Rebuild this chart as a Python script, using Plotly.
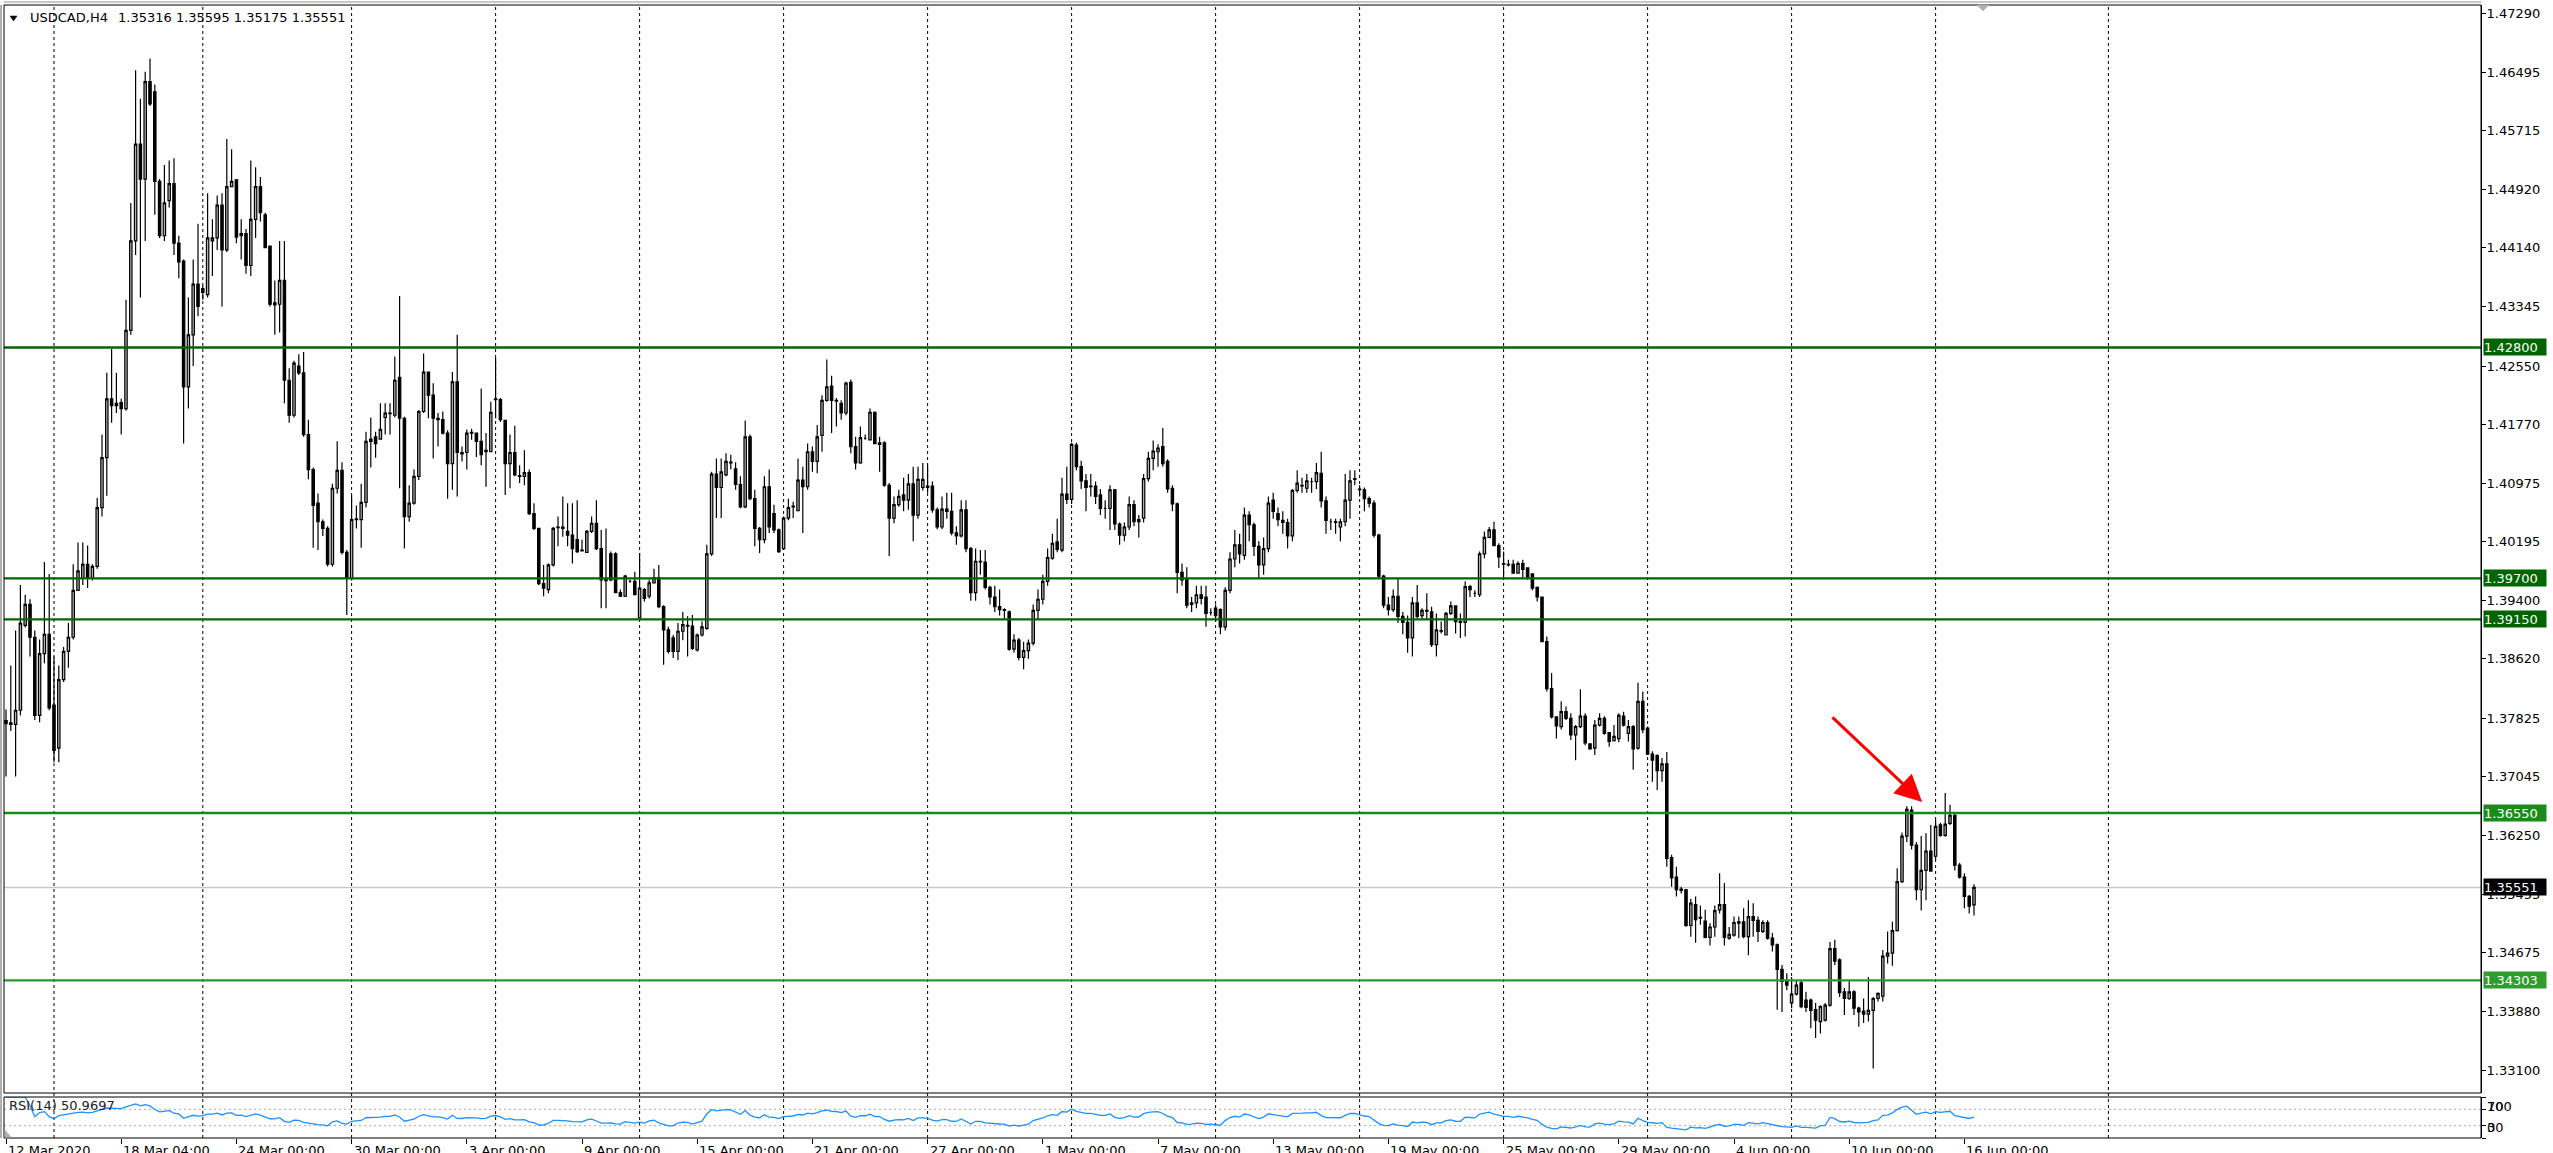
import plotly.graph_objects as go

# ---------------- DATA (USDCAD H4) ----------------
opens = [
1.3779,1.3774,1.3774,1.3793,1.3907,1.3935,1.3891,1.3786,1.3869,1.3895,
1.3800,1.3742,1.3834,1.3872,1.3891,1.3954,1.3970,1.3989,1.3970,1.3986,
1.4065,1.4132,1.4211,1.4202,1.4206,1.4198,1.4303,1.4423,1.4553,1.4506,
1.4637,1.4623,1.4503,1.4430,1.4477,1.4500,1.4420,1.4396,1.4227,1.4297,
1.4365,1.4359,1.4351,1.4423,1.4427,1.4471,1.4411,1.4496,1.4505,1.4430,
1.4433,1.4390,1.4452,1.4496,1.4458,1.4416,1.4340,1.4338,1.4370,1.4236,
1.4189,1.4255,1.4246,1.4163,1.4116,1.4071,1.4046,1.4037,1.3989,1.4091,
1.4115,1.4005,1.3970,1.4049,1.4049,1.4072,1.4154,1.4160,1.4157,1.4186,
1.4192,1.4189,1.4240,1.4185,1.4053,1.4071,1.4107,1.4194,1.4247,1.4216,
1.4185,1.4183,1.4165,1.4124,1.4234,1.4139,1.4139,1.4165,1.4165,1.4154,
1.4140,1.4140,1.4210,1.4210,1.4182,1.4124,1.4139,1.4108,1.4107,1.4112,
1.4057,1.4037,1.3963,1.3955,1.3988,1.4038,1.4039,1.4033,1.4028,1.4022,
1.4008,1.4005,1.4033,1.4044,1.4010,1.3968,1.4003,1.4003,1.3951,1.3946,
1.3966,1.3966,1.3917,1.3955,1.3946,1.3964,1.3971,1.3932,1.3901,1.3890,
1.3872,1.3899,1.3907,1.3906,1.3874,1.3894,1.3903,1.4003,1.4110,1.4092,
1.4109,1.4126,1.4117,1.4096,1.4066,1.4160,1.4077,1.4037,1.4022,1.4093,
1.4057,1.4035,1.4010,1.4051,1.4066,1.4061,1.4102,1.4093,1.4140,1.4127,
1.4162,1.4209,1.4228,1.4209,1.4205,1.4192,1.4233,1.4147,1.4125,1.4158,
1.4156,1.4193,1.4152,1.4152,1.4095,1.4051,1.4069,1.4082,1.4075,1.4097,
1.4055,1.4092,1.4094,1.4094,1.4062,1.4039,1.4063,1.4060,1.4031,1.4027,
1.4062,1.4010,1.3951,1.3992,1.3992,1.3958,1.3945,1.3932,1.3928,1.3925,
1.3875,1.3887,1.3864,1.3873,1.3883,1.3927,1.3942,1.3966,1.3997,1.4019,
1.4008,1.4083,1.4076,1.4149,1.4120,1.4101,1.4094,1.4094,1.4082,1.4064,
1.4064,1.4089,1.4043,1.4028,1.4039,1.4069,1.4046,1.4051,1.4104,1.4131,
1.4140,1.4147,1.4127,1.4091,1.4070,1.3978,1.3968,1.3935,1.3937,1.3948,
1.3945,1.3924,1.3930,1.3928,1.3905,1.3954,1.3996,1.4015,1.4001,1.4055,
1.4042,1.4013,1.3988,1.4010,1.4075,1.4057,1.4048,1.4045,1.4027,1.4088,
1.4094,1.4091,1.4100,1.4100,1.4111,1.4074,1.4046,1.4046,1.4039,1.4046,
1.4075,1.4103,1.4090,1.4089,1.4077,1.4071,1.4028,1.3973,1.3934,1.3928,
1.3946,1.3919,1.3911,1.3890,1.3937,1.3920,1.3927,1.3925,1.3881,1.3900,
1.3894,1.3923,1.3933,1.3912,1.3911,1.3959,1.3950,1.3948,1.4003,1.4025,
1.4035,1.4014,1.3990,1.3989,1.3989,1.3977,1.3990,1.3984,1.3976,1.3958,
1.3945,1.3885,1.3822,1.3784,1.3771,1.3791,1.3782,1.3760,1.3771,1.3785,
1.3748,1.3742,1.3773,1.3782,1.3763,1.3752,1.3755,1.3785,1.3762,1.3771,
1.3742,1.3805,1.3769,1.3734,1.3732,1.3712,1.3721,1.3595,1.3569,1.3553,
1.3552,1.3504,1.3532,1.3515,1.3510,1.3488,1.3502,1.3525,1.3532,1.3487,
1.3491,1.3509,1.3509,1.3489,1.3516,1.3511,1.3496,1.3508,1.3487,1.3478,
1.3445,1.3429,1.3400,1.3412,1.3427,1.3404,1.3404,1.3391,1.3375,1.3377,
1.3397,1.3473,1.3458,1.3415,1.3406,1.3415,1.3393,1.3389,1.3385,1.3390,
1.3406,1.3409,1.3463,1.3467,1.3497,1.3563,1.3624,1.3659,1.3612,1.3552,
1.3578,1.3604,1.3597,1.3639,1.3625,1.3641,1.3652,1.3585,1.3569,1.3543,
1.35316]

highs = [
1.3794,1.3853,1.3900,1.3961,1.3948,1.3942,1.3900,1.3888,1.3992,1.3976,
1.3865,1.3853,1.3878,1.3910,1.3989,1.4018,1.4018,1.4014,1.3989,1.4078,
1.4163,1.4246,1.4278,1.4246,1.4211,1.4344,1.4474,1.4652,1.4614,1.4650,
1.4668,1.4633,1.4506,1.4525,1.4531,1.4534,1.4430,1.4398,1.4347,1.4398,
1.4446,1.4363,1.4487,1.4452,1.4484,1.4487,1.4560,1.4546,1.4506,1.4452,
1.4439,1.4531,1.4522,1.4509,1.4461,1.4417,1.4370,1.4423,1.4423,1.4252,
1.4262,1.4271,1.4274,1.4183,1.4119,1.4084,1.4049,1.4040,1.4097,1.4154,
1.4126,1.4008,1.4081,1.4068,1.4097,1.4167,1.4186,1.4167,1.4205,1.4205,
1.4205,1.4268,1.4349,1.4187,1.4095,1.4116,1.4196,1.4272,1.4247,1.4232,
1.4192,1.4194,1.4169,1.4247,1.4297,1.4147,1.4170,1.4171,1.4166,1.4225,
1.4165,1.4207,1.4266,1.4212,1.4183,1.4163,1.4175,1.4122,1.4142,1.4116,
1.4071,1.4037,1.3988,1.3990,1.4039,1.4053,1.4080,1.4071,1.4071,1.4075,
1.4022,1.4035,1.4053,1.4075,1.4035,1.4037,1.4006,1.4005,1.3955,1.3975,
1.3968,1.3979,1.4004,1.3957,1.3968,1.3983,1.3988,1.3934,1.3905,1.3894,
1.3910,1.3925,1.3919,1.3921,1.3896,1.3912,1.4015,1.4113,1.4131,1.4131,
1.4138,1.4136,1.4126,1.4107,1.4182,1.4163,1.4089,1.4039,1.4107,1.4116,
1.4069,1.4037,1.4053,1.4077,1.4073,1.4131,1.4120,1.4151,1.4147,1.4176,
1.4216,1.4264,1.4242,1.4212,1.4209,1.4234,1.4237,1.4160,1.4174,1.4163,
1.4198,1.4194,1.4160,1.4154,1.4098,1.4080,1.4089,1.4105,1.4110,1.4120,
1.4120,1.4125,1.4122,1.4100,1.4065,1.4080,1.4085,1.4085,1.4040,1.4075,
1.4075,1.4012,1.4010,1.4008,1.4008,1.3960,1.3960,1.3955,1.3930,1.3927,
1.3895,1.3890,1.3885,1.3888,1.3935,1.3955,1.3975,1.4010,1.4030,1.4050,
1.4105,1.4120,1.4152,1.4152,1.4128,1.4110,1.4110,1.4100,1.4090,1.4075,
1.4095,1.4090,1.4045,1.4045,1.4080,1.4075,1.4055,1.4110,1.4140,1.4155,
1.4150,1.4172,1.4130,1.4095,1.4072,1.3990,1.3985,1.3945,1.3960,1.3960,
1.3960,1.3930,1.3935,1.3930,1.3958,1.4005,1.4035,1.4030,1.4065,1.4060,
1.4045,1.4020,1.4025,1.4080,1.4085,1.4065,1.4060,1.4050,1.4090,1.4115,
1.4105,1.4110,1.4105,1.4125,1.4140,1.4080,1.4050,1.4050,1.4050,1.4110,
1.4115,1.4115,1.4095,1.4092,1.4080,1.4075,1.4030,1.3975,1.3945,1.3955,
1.3970,1.3925,1.3920,1.3945,1.3961,1.3930,1.3950,1.3932,1.3923,1.3912,
1.3925,1.3939,1.3934,1.3923,1.3966,1.3961,1.3954,1.4006,1.4033,1.4039,
1.4046,1.4017,1.4006,1.3995,1.3995,1.3993,1.3995,1.3984,1.3977,1.3959,
1.3945,1.3892,1.3843,1.3784,1.3805,1.3798,1.3789,1.3773,1.3821,1.3789,
1.3748,1.3780,1.3789,1.3785,1.3763,1.3773,1.3789,1.3791,1.3780,1.3773,
1.3830,1.3818,1.3771,1.3738,1.3734,1.3729,1.3737,1.3599,1.3583,1.3556,
1.3553,1.3540,1.3543,1.3531,1.3525,1.3507,1.3531,1.3574,1.3561,1.3502,
1.3516,1.3516,1.3527,1.3538,1.3534,1.3516,1.3511,1.3511,1.3494,1.3480,
1.3451,1.3440,1.3435,1.3431,1.3431,1.3415,1.3406,1.3400,1.3397,1.3400,
1.3482,1.3485,1.3460,1.3420,1.3429,1.3417,1.3395,1.3406,1.3435,1.3408,
1.3414,1.3471,1.3496,1.3509,1.3581,1.3629,1.3664,1.3664,1.3616,1.3624,
1.3628,1.3639,1.3646,1.3642,1.3682,1.3666,1.3654,1.3588,1.3574,1.3545,
1.35595]

lows = [
1.3704,1.3765,1.3704,1.3786,1.3904,1.3865,1.3780,1.3777,1.3856,1.3793,
1.3723,1.3723,1.3831,1.3850,1.3888,1.3954,1.3961,1.3957,1.3967,1.3983,
1.4053,1.4081,1.4179,1.4192,1.4163,1.4195,1.4297,1.4404,1.4347,1.4423,
1.4604,1.4458,1.4427,1.4423,1.4468,1.4404,1.4373,1.4151,1.4198,1.4255,
1.4322,1.4344,1.4347,1.4376,1.4411,1.4335,1.4408,1.4496,1.4420,1.4398,
1.4379,1.4376,1.4427,1.4449,1.4414,1.4335,1.4297,1.4300,1.4205,1.4179,
1.4186,1.4243,1.4160,1.4103,1.4011,1.4008,1.4027,1.3986,1.3986,1.4084,
1.4002,1.3921,1.3967,1.4037,1.4011,1.4065,1.4119,1.4132,1.4157,1.4163,
1.4163,1.4186,1.4091,1.4010,1.4046,1.4069,1.4102,1.4192,1.4185,1.4131,
1.4147,1.4163,1.4077,1.4089,1.4080,1.4127,1.4116,1.4156,1.4133,1.4122,
1.4093,1.4140,1.4185,1.4180,1.4082,1.4091,1.4107,1.4098,1.4095,1.4055,
1.4035,1.3961,1.3946,1.3950,1.3986,1.4013,1.4026,1.4013,1.3990,1.4004,
1.4006,1.4004,1.4031,1.4008,1.3930,1.3930,1.3966,1.3950,1.3945,1.3945,
1.3964,1.3948,1.3917,1.3939,1.3943,1.3963,1.3930,1.3854,1.3869,1.3863,
1.3860,1.3887,1.3865,1.3874,1.3872,1.3892,1.3901,1.4000,1.4051,1.4051,
1.4107,1.4116,1.4089,1.4064,1.4064,1.4075,1.4013,1.4004,1.4017,1.4031,
1.4031,1.4004,1.4008,1.4048,1.4051,1.4060,1.4031,1.4089,1.4113,1.4111,
1.4140,1.4207,1.4165,1.4174,1.4183,1.4189,1.4138,1.4116,1.4124,1.4156,
1.4155,1.4150,1.4113,1.4093,1.4000,1.4044,1.4066,1.4060,1.4062,1.4020,
1.4050,1.4088,1.4085,1.4058,1.4036,1.4036,1.4050,1.4028,1.4015,1.4025,
1.4005,1.3940,1.3940,1.3975,1.3955,1.3935,1.3925,1.3920,1.3915,1.3873,
1.3870,1.3860,1.3848,1.3862,1.3880,1.3915,1.3935,1.3960,1.3995,1.4005,
1.4005,1.4070,1.4070,1.4115,1.4090,1.4060,1.4080,1.4070,1.4055,1.4050,
1.4035,1.4035,1.4015,1.4020,1.4035,1.4040,1.4025,1.4045,1.4100,1.4115,
1.4120,1.4120,1.4085,1.4060,1.3950,1.3960,1.3930,1.3925,1.3930,1.3935,
1.3905,1.3920,1.3912,1.3895,1.3900,1.3950,1.3985,1.3990,1.3995,1.4020,
1.4000,1.3970,1.3975,1.4005,1.4050,1.4040,1.4030,1.4010,1.4020,1.4085,
1.4085,1.4085,1.4085,1.4090,1.4065,1.4030,1.4035,1.4030,1.4020,1.4040,
1.4050,1.4095,1.4080,1.4060,1.4065,1.4025,1.3970,1.3930,1.3920,1.3925,
1.3910,1.3895,1.3870,1.3865,1.3916,1.3916,1.3914,1.3878,1.3865,1.3896,
1.3894,1.3921,1.3896,1.3890,1.3892,1.3945,1.3945,1.3945,1.3997,1.4024,
1.4013,1.3984,1.3972,1.3986,1.3977,1.3977,1.3970,1.3968,1.3954,1.3939,
1.3885,1.3818,1.3782,1.3755,1.3767,1.3780,1.3753,1.3726,1.3769,1.3746,
1.3740,1.3733,1.3771,1.3760,1.3744,1.3751,1.3750,1.3771,1.3751,1.3713,
1.3740,1.3762,1.3733,1.3697,1.3686,1.3697,1.3583,1.3556,1.3543,1.3547,
1.3502,1.3489,1.3481,1.3505,1.3487,1.3477,1.3489,1.3520,1.3477,1.3485,
1.3489,1.3487,1.3487,1.3464,1.3489,1.3482,1.3494,1.3485,1.3469,1.3391,
1.3388,1.3417,1.3393,1.3410,1.3393,1.3388,1.3366,1.3353,1.3359,1.3375,
1.3395,1.3451,1.3408,1.3384,1.3404,1.3384,1.3368,1.3373,1.3375,1.3312,
1.3402,1.3402,1.3453,1.3450,1.3496,1.3561,1.3616,1.3606,1.3538,1.3524,
1.3538,1.3576,1.3592,1.3623,1.3623,1.3639,1.3578,1.3567,1.3527,1.3520,
1.35175]

closes = [
1.3775,1.3776,1.3793,1.3910,1.3935,1.3891,1.3786,1.3869,1.3895,1.3796,
1.3739,1.3834,1.3872,1.3891,1.3954,1.3980,1.3989,1.3970,1.3986,1.4065,
1.4132,1.4211,1.4202,1.4205,1.4198,1.4303,1.4423,1.4553,1.4506,1.4637,
1.4607,1.4503,1.4430,1.4474,1.4500,1.4420,1.4395,1.4227,1.4297,1.4365,
1.4335,1.4354,1.4427,1.4427,1.4471,1.4411,1.4496,1.4503,1.4428,1.4433,
1.4390,1.4452,1.4496,1.4461,1.4414,1.4338,1.4337,1.4370,1.4236,1.4189,
1.4259,1.4246,1.4163,1.4116,1.4068,1.4046,1.4037,1.3989,1.4091,1.4115,
1.4005,1.3970,1.4049,1.4050,1.4072,1.4154,1.4157,1.4151,1.4170,1.4192,
1.4191,1.4236,1.4185,1.4053,1.4071,1.4107,1.4194,1.4247,1.4216,1.4185,
1.4183,1.4165,1.4124,1.4234,1.4139,1.4137,1.4165,1.4166,1.4154,1.4136,
1.4142,1.4193,1.4211,1.4183,1.4124,1.4139,1.4109,1.4107,1.4112,1.4057,
1.4037,1.3963,1.3957,1.3988,1.4037,1.4039,1.4037,1.4028,1.4010,1.4006,
1.4007,1.4033,1.4044,1.4010,1.3968,1.3967,1.3968,1.3951,1.3946,1.3973,
1.3966,1.3948,1.3957,1.3943,1.3964,1.3971,1.3932,1.3901,1.3872,1.3872,
1.3899,1.3908,1.3906,1.3876,1.3894,1.3905,1.4003,1.4110,1.4092,1.4113,
1.4127,1.4125,1.4096,1.4066,1.4160,1.4077,1.4037,1.4022,1.4093,1.4039,
1.4035,1.4006,1.4051,1.4065,1.4067,1.4102,1.4093,1.4140,1.4127,1.4160,
1.4209,1.4227,1.4209,1.4208,1.4192,1.4232,1.4147,1.4125,1.4159,1.4158,
1.4193,1.4151,1.4150,1.4095,1.4051,1.4069,1.4080,1.4075,1.4097,1.4055,
1.4103,1.4103,1.4092,1.4062,1.4039,1.4063,1.4060,1.4031,1.4027,1.4062,
1.4010,1.3951,1.3993,1.3993,1.3958,1.3945,1.3932,1.3928,1.3927,1.3875,
1.3887,1.3864,1.3873,1.3883,1.3927,1.3942,1.3966,1.3998,1.4017,1.4009,
1.4083,1.4076,1.4150,1.4120,1.4101,1.4092,1.4093,1.4080,1.4064,1.4064,
1.4089,1.4043,1.4028,1.4039,1.4069,1.4046,1.4049,1.4104,1.4131,1.4141,
1.4145,1.4124,1.4090,1.4070,1.3978,1.3968,1.3934,1.3937,1.3948,1.3943,
1.3923,1.3924,1.3920,1.3905,1.3954,1.3996,1.4015,1.4003,1.4055,1.4042,
1.4013,1.3988,1.4010,1.4071,1.4060,1.4049,1.4045,1.4027,1.4088,1.4098,
1.4095,1.4101,1.4100,1.4112,1.4074,1.4048,1.4046,1.4045,1.4046,1.4075,
1.4101,1.4104,1.4089,1.4077,1.4071,1.4028,1.3973,1.3934,1.3928,1.3946,
1.3919,1.3911,1.3890,1.3937,1.3919,1.3927,1.3926,1.3881,1.3901,1.3899,
1.3923,1.3933,1.3912,1.3911,1.3959,1.3955,1.3950,1.4003,1.4025,1.4035,
1.4014,1.3999,1.3989,1.3988,1.3977,1.3990,1.3982,1.3972,1.3957,1.3945,
1.3885,1.3822,1.3784,1.3772,1.3791,1.3782,1.3760,1.3771,1.3785,1.3749,
1.3741,1.3773,1.3782,1.3762,1.3751,1.3758,1.3786,1.3773,1.3771,1.3741,
1.3805,1.3767,1.3734,1.3726,1.3712,1.3721,1.3594,1.3568,1.3552,1.3551,
1.3504,1.3534,1.3512,1.3514,1.3488,1.3502,1.3524,1.3532,1.3488,1.3492,
1.3508,1.3507,1.3489,1.3516,1.3511,1.3496,1.3508,1.3487,1.3478,1.3445,
1.3429,1.3424,1.3412,1.3424,1.3395,1.3394,1.3390,1.3377,1.3395,1.3397,
1.3473,1.3456,1.3414,1.3406,1.3415,1.3393,1.3388,1.3385,1.3390,1.3406,
1.3413,1.3463,1.3467,1.3497,1.3563,1.3624,1.3660,1.3612,1.3552,1.3578,
1.3604,1.3577,1.3637,1.3625,1.3640,1.3652,1.3585,1.3569,1.3543,1.3530,
1.35551]

price_ticks = [1.47290, 1.46495, 1.45715, 1.44920, 1.44140, 1.43345, 1.42550,
               1.41770, 1.40975, 1.40195, 1.39400, 1.38620, 1.37825, 1.37045,
               1.36250, 1.35455, 1.34675, 1.33880, 1.33100]
level_prices = [1.42800, 1.39700, 1.39150, 1.36550, 1.34303]
current_price = 1.35551
date_labels = ["12 Mar 2020", "18 Mar 04:00", "24 Mar 00:00", "30 Mar 00:00",
               "3 Apr 00:00", "9 Apr 00:00", "15 Apr 00:00", "21 Apr 00:00",
               "27 Apr 00:00", "1 May 00:00", "7 May 00:00", "13 May 00:00",
               "19 May 00:00", "25 May 00:00", "29 May 00:00", "4 Jun 00:00",
               "10 Jun 00:00", "16 Jun 00:00"]
date_label_bars = [0, 24, 48, 72, 96, 120, 144, 168, 192, 216, 240, 264, 288,
                   312, 336, 360, 384, 408]
grid_bars = [10, 41, 72, 102, 132, 162, 192, 222, 252, 282, 312, 342, 372, 402, 438]
rsi_levels = [70, 30]
arrow_tail = (380.2, 1.37853)
arrow_tip = (399.2, 1.36698)

# ---------------- derived ----------------
bars = list(range(len(closes)))
highs = [max(h, o, c) for h, o, c in zip(highs, opens, closes)]
lows = [min(l, o, c) for l, o, c in zip(lows, opens, closes)]


def rsi(vals, n=14):
    out = [None] * len(vals)
    gains, losses = [], []
    ag = al = 0.0
    for i in range(1, len(vals)):
        d = vals[i] - vals[i - 1]
        g, l = max(d, 0.0), max(-d, 0.0)
        if i <= n:
            gains.append(g)
            losses.append(l)
            ag = sum(gains) / len(gains)
            al = sum(losses) / len(losses)
        else:
            ag = (ag * (n - 1) + g) / n
            al = (al * (n - 1) + l) / n
        out[i] = 100.0 if al == 0 else 100 - 100 / (1 + ag / al)
    out[0] = out[1]
    return out


rsi_vals = rsi(closes)

# ---------------- geometry (pixels) ----------------
W, H = 2553, 1153
PX_L, PX_R, PX_T, PX_B = 4, 2481, 5, 1138
MAIN_BOTTOM_PX, RSI_TOP_PX = 1093, 1097
PX_PER_BAR = 4.8
FIRST_BAR_PX = 6
PX_PER_PRICE = 7449.0


def px_x(px):
    return (px - PX_L) / (PX_R - PX_L)


def px_y(py):
    return (PX_B - py) / (PX_B - PX_T)


x_range = [(PX_L - FIRST_BAR_PX) / PX_PER_BAR, (PX_R - FIRST_BAR_PX) / PX_PER_BAR]
y_top = 1.47290 + (13 - PX_T) / PX_PER_PRICE
y_bot = y_top - (MAIN_BOTTOM_PX - PX_T) / PX_PER_PRICE

FONT = "DejaVu Sans"

fig = go.Figure()
fig.add_trace(go.Candlestick(
    x=bars, open=opens, high=highs, low=lows, close=closes,
    increasing=dict(line=dict(color="black", width=1.2), fillcolor="#b4b4b4"),
    decreasing=dict(line=dict(color="black", width=1.2), fillcolor="black"),
    whiskerwidth=0, xaxis="x", yaxis="y", showlegend=False, hoverinfo="skip"))

fig.add_trace(go.Scatter(
    x=bars, y=rsi_vals, mode="lines", line=dict(color="#1E90FF", width=1.3),
    xaxis="x2", yaxis="y2", showlegend=False, hoverinfo="skip"))

shapes = []
for g in grid_bars:
    shapes.append(dict(type="line", xref="x", yref="paper", x0=g, x1=g, y0=0, y1=1,
                       line=dict(color="black", width=1, dash="3px,3px"), layer="below"))
shapes.append(dict(type="line", xref="paper", yref="y", x0=0, x1=1,
                   y0=current_price, y1=current_price,
                   line=dict(color="#c8c8c8", width=1.5), layer="below"))
level_line_colors = ["#006400", "#006400", "#006400", "#168a16", "#2a982a"]
for lv, col in zip(level_prices, level_line_colors):
    shapes.append(dict(type="line", xref="paper", yref="y", x0=0, x1=1, y0=lv, y1=lv,
                       line=dict(color=col, width=2.4), layer="above"))
for lv in rsi_levels:
    shapes.append(dict(type="line", xref="paper", yref="y2", x0=0, x1=1, y0=lv, y1=lv,
                       line=dict(color="#a8a8a8", width=1, dash="2px,3px"), layer="below"))
# pane frames
shapes.append(dict(type="rect", xref="paper", yref="paper", x0=0, x1=1,
                   y0=px_y(MAIN_BOTTOM_PX), y1=1, line=dict(color="black", width=1),
                   fillcolor="rgba(0,0,0,0)", layer="above"))
shapes.append(dict(type="rect", xref="paper", yref="paper", x0=0, x1=1,
                   y0=0, y1=px_y(RSI_TOP_PX), line=dict(color="black", width=1),
                   fillcolor="rgba(0,0,0,0)", layer="above"))
shapes.append(dict(type="line", xref="paper", yref="paper", x0=px_x(1), x1=px_x(1),
                   y0=0, y1=1, line=dict(color="#606060", width=1)))
shapes.append(dict(type="line", xref="paper", yref="paper", x0=0, x1=1,
                   y0=px_y(2), y1=px_y(2), line=dict(color="#909090", width=1)))
# header triangle
tri = "M {} {} L {} {} L {} {} Z".format(px_x(10), px_y(16), px_x(17), px_y(16),
                                          px_x(13.5), px_y(21))
shapes.append(dict(type="path", xref="paper", yref="paper", path=tri,
                   fillcolor="black", line=dict(color="black", width=0.5)))
# chart-shift marker
tri2 = "M {} {} L {} {} L {} {} Z".format(px_x(1977), px_y(5), px_x(1989), px_y(5),
                                           px_x(1983), px_y(11))
shapes.append(dict(type="path", xref="paper", yref="paper", path=tri2,
                   fillcolor="#b0b0b0", line=dict(color="#b0b0b0", width=0.5)))
tri3 = "M {} {} L {} {} L {} {} Z".format(px_x(5), px_y(1130), px_x(5), px_y(1137),
                                           px_x(11), px_y(1137))
shapes.append(dict(type="path", xref="paper", yref="paper", path=tri3,
                   fillcolor="#b0b0b0", line=dict(color="#b0b0b0", width=0.5)))

ann = []
ann.append(dict(xref="paper", yref="paper", x=px_x(28), y=px_y(18), xanchor="left",
                yanchor="middle", text="USDCAD,H4", showarrow=False,
                font=dict(family=FONT, size=13, color="black")))
ann.append(dict(xref="paper", yref="paper", x=px_x(116), y=px_y(18), xanchor="left",
                yanchor="middle", text="1.35316 1.35595 1.35175 1.35551", showarrow=False,
                font=dict(family=FONT, size=13, color="black")))
box_colors = ["#006400", "#006400", "#006400", "#1a8c1a", "#2e9c2e"]
for lv, col in zip(level_prices, box_colors):
    ann.append(dict(xref="paper", yref="y", x=1, y=lv, xanchor="left", yanchor="middle",
                    xshift=2, text="{:.5f}".format(lv), showarrow=False, bgcolor=col,
                    width=62, height=16, align="left", borderpad=0,
                    font=dict(family=FONT, size=13, color="white")))
ann.append(dict(xref="paper", yref="y", x=1, y=current_price, xanchor="left",
                yanchor="middle", xshift=2, text="{:.5f}".format(current_price),
                showarrow=False, bgcolor="black", width=62, height=16, align="left",
                borderpad=0, font=dict(family=FONT, size=13, color="white")))
ann.append(dict(xref="paper", yref="paper", x=px_x(7), y=px_y(1105), xanchor="left",
                yanchor="middle", text="RSI(14) 50.9697", showarrow=False,
                font=dict(family=FONT, size=13, color="#202020")))
for txt, py in [("100", 1106), ("70", 1106), ("30", 1127), ("0", 1127)]:
    ann.append(dict(xref="paper", yref="paper", x=1, y=px_y(py), xanchor="left",
                    yanchor="middle", xshift=4, text=txt, showarrow=False,
                    font=dict(family=FONT, size=13, color="black")))
for lbl, b in zip(date_labels, date_label_bars):
    ann.append(dict(xref="x", yref="paper", x=b, y=px_y(1141), xanchor="left",
                    yanchor="top", text=lbl, showarrow=False,
                    font=dict(family=FONT, size=13, color="black")))
ann.append(dict(xref="x", yref="y", x=arrow_tip[0], y=arrow_tip[1],
                axref="x", ayref="y", ax=arrow_tail[0], ay=arrow_tail[1],
                text="", showarrow=True, arrowhead=2, arrowsize=1.8, arrowwidth=3,
                arrowcolor="#ff0000", standoff=0))

fig.update_layout(
    width=W, height=H,
    margin=dict(l=PX_L, r=W - PX_R, t=PX_T, b=H - PX_B, autoexpand=False),
    paper_bgcolor="white", plot_bgcolor="white",
    showlegend=False, hovermode=False,
    font=dict(family=FONT, size=13, color="black"),
    xaxis=dict(domain=[0, 1], anchor="y", range=x_range, showticklabels=False,
               showgrid=False, zeroline=False, ticks="", rangeslider=dict(visible=False)),
    yaxis=dict(domain=[px_y(MAIN_BOTTOM_PX), 1], anchor="x", side="right",
               range=[y_bot, y_top], tickvals=price_ticks,
               ticktext=["{:.5f}".format(v) for v in price_ticks],
               ticks="outside", ticklen=4, tickcolor="black", showgrid=False,
               zeroline=False, showline=True, linecolor="black", linewidth=1,
               ticklabelstandoff=-2,
               tickfont=dict(family=FONT, size=13, color="black")),
    xaxis2=dict(domain=[0, 1], anchor="y2", matches="x", range=x_range,
                tickvals=date_label_bars, ticks="outside", ticklen=5, tickcolor="black",
                showticklabels=False, showgrid=False, zeroline=False),
    yaxis2=dict(domain=[0, px_y(RSI_TOP_PX)], anchor="x2", side="right", range=[0, 100],
                tickvals=[0, 30, 70, 100], ticks="outside", ticklen=4, tickcolor="black",
                showticklabels=False, showgrid=False, zeroline=False, showline=True,
                linecolor="black"),
    shapes=shapes, annotations=ann,
)

fig.write_html(
    "out.html",
    config={"displayModeBar": False, "staticPlot": True},
    post_script="document.body.style.margin='0';document.body.style.overflow='hidden';",
)
